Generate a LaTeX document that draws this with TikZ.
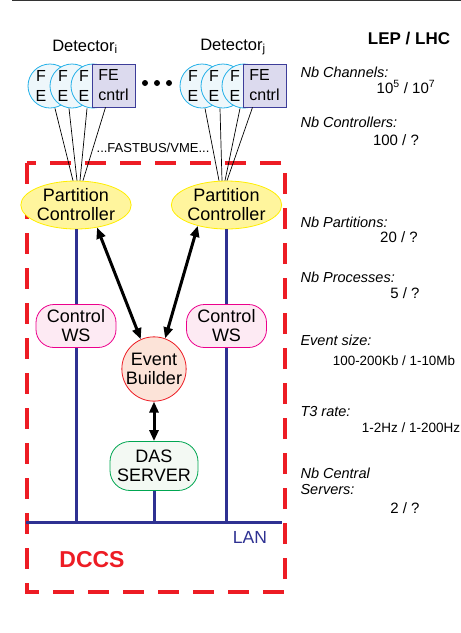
\documentclass[tikz,border=0pt]{standalone}
\usepackage{fontspec}
\setmainfont{Liberation Sans}
\usetikzlibrary{arrows.meta,positioning,shapes.geometric}

\definecolor{lanblue}{HTML}{2E3192}
\definecolor{dccsred}{HTML}{ED1C24}
\definecolor{fecyan}{HTML}{22B0E8}
\definecolor{fefill}{HTML}{EEF7FB}
\definecolor{ctrlblue}{HTML}{3D3D99}
\definecolor{ctrlfill}{HTML}{DCDAEE}
\definecolor{pcdraw}{HTML}{FFEE00}
\definecolor{pcfill}{HTML}{FFF59D}
\definecolor{wsdraw}{HTML}{EC008C}
\definecolor{wsfill}{HTML}{FDEAF3}
\definecolor{ebfill}{HTML}{FCE3D8}
\definecolor{dasdraw}{HTML}{00A651}
\definecolor{dasfill}{HTML}{F3F9F3}

\begin{document}
\begin{tikzpicture}[x=1pt,y=-1pt, fe/.style={circle,draw=fecyan,fill=fefill,line width=0.8pt,minimum size=44pt,inner sep=0pt}, fetxt/.style={align=center,font=\fontsize{16}{20}\selectfont,xshift=-9pt}, cntrl/.style={draw=ctrlblue,fill=ctrlfill,line width=0.8pt,minimum width=43pt,minimum height=43pt,inner sep=0pt,align=left,font=\fontsize{16}{20}\selectfont}, pc/.style={ellipse,draw=pcdraw,fill=pcfill,line width=0.8pt,minimum width=91pt,minimum height=48pt,inner sep=0pt,align=center,font=\fontsize{18}{19}\selectfont}, ws/.style={draw=wsdraw,fill=wsfill,line width=0.8pt,rounded corners=18pt,minimum width=80pt,minimum height=43pt,inner sep=0pt,align=center,font=\fontsize{18}{19}\selectfont}, wire/.style={line width=0.7pt}, lan/.style={draw=lanblue,line width=3pt}, biarrow/.style={line width=3pt,{Triangle[length=11pt,width=9pt]}-{Triangle[length=11pt,width=9pt]}}, lbl/.style={anchor=west,align=left,font=\fontsize{14.5}{16}\selectfont\itshape}, val/.style={font=\fontsize{15}{17}\selectfont}]
\useasboundingbox (0,0) rectangle (461,633);
\draw[line width=1.5pt,black!80] (12,0.7) -- (461,0.7);

% detectors and front ends
\node[font=\fontsize{16.5}{18}\selectfont] (DetI) at (85,47) {Detector\textsubscript{i}};
\node[font=\fontsize{16.5}{18}\selectfont] (DetJ) at (233,47) {Detector\textsubscript{j}};
\node[fe,label={[fetxt]center:F\\E}] (Fa) at (50,86) {};
\node[fe,label={[fetxt]center:F\\E}] (Fb) at (72,86) {};
\node[fe,label={[fetxt]center:F\\E}] (Fc) at (93,86) {};
\node[cntrl] (K1) at (113.5,85.5) {FE\\cntrl};
\node[fe,label={[fetxt]center:F\\E}] (Fd) at (202,86) {};
\node[fe,label={[fetxt]center:F\\E}] (Fe) at (223,86) {};
\node[fe,label={[fetxt]center:F\\E}] (Ff) at (244,86) {};
\node[cntrl] (K2) at (264.5,85.5) {FE\\cntrl};
\foreach \x in {145,157,169} \fill (\x,83) circle (3);
\node[font=\fontsize{13}{15}\selectfont] (Bus) at (153,148) {...FASTBUS/VME...};

% DCCS frame
\draw[dccsred,line width=4pt,dash pattern=on 21pt off 14pt] (27,163) rectangle (285,592);
\node[text=dccsred,font=\fontsize{23}{25}\selectfont\bfseries] (DCCS) at (92,560) {DCCS};

\node[pc] (PC1) at (76,205) {Partition\\Controller};
\node[pc] (PC2) at (226.5,205) {Partition\\Controller};
\node[ws] (WS1) at (76,326) {Control\\WS};
\node[ws] (WS2) at (226.5,326) {Control\\WS};
\node[circle,draw=dccsred,fill=ebfill,line width=0.8pt,minimum size=64pt,inner sep=0pt,align=center,font=\fontsize{18}{19}\selectfont] (EB) at (154,369) {Event\\Builder};
\node[draw=dasdraw,fill=dasfill,line width=0.8pt,rounded corners=20pt,minimum width=88pt,minimum height=49pt,inner sep=0pt,align=center,font=\fontsize{18}{19}\selectfont] (DAS) at (154,466) {DAS\\SERVER};

\draw[wire] ([xshift=5pt]Fa.south) -- ([xshift=-3pt]PC1.north);
\draw[wire] ([xshift=-3pt]Fb.south) -- ([xshift=1pt]PC1.north);
\draw[wire] ([xshift=-6pt]Fc.south) -- ([xshift=4pt]PC1.north);
\draw[wire] ([xshift=-8pt]K1.south) -- ([xshift=7pt]PC1.north);
\draw[wire] ([xshift=3pt]Fd.south) -- ([xshift=-7.5pt]PC2.north);
\draw[wire] ([xshift=-3pt]Fe.south) -- ([xshift=-4.5pt]PC2.north);
\draw[wire] ([xshift=-4pt]Ff.south) -- ([xshift=-1.5pt]PC2.north);
\draw[wire] ([xshift=-12pt]K2.south) -- ([xshift=0.5pt]PC2.north);

% LAN
\coordinate (L1) at (26,522);
\coordinate (L2) at (282,522);
\draw[lan] (L1) -- (L2);
\draw[lan] (PC1) -- (WS1);
\draw[lan] (PC2) -- (WS2);
\draw[lan] (WS1) -- (WS1 |- L1);
\draw[lan] (WS2) -- (WS2 |- L1);
\draw[lan] (DAS) -- (DAS |- L1);
\node[text=lanblue,font=\fontsize{17.5}{19}\selectfont] (LAN) at (250,537) {LAN};

\draw[biarrow] (PC1.-47) -- (EB.114);
\draw[biarrow] (PC2.-144) -- (EB.70);
\draw[biarrow] (EB) -- (DAS);

% LEP / LHC figures
\node[font=\fontsize{17}{19}\selectfont\bfseries] (LEP) at (409,39) {LEP / LHC};
\node[lbl] (NbCh) at (297,72) {Nb Channels:};
\node[val] (vCh) at (406,87) {10\textsuperscript{5} / 10\textsuperscript{7}};
\node[lbl] (NbCo) at (297,122) {Nb Controllers:};
\node[val] (vCo) at (396,140) {100 / ?};
\node[lbl] (NbPa) at (297,222) {Nb Partitions:};
\node[val] (vPa) at (399,237) {20 / ?};
\node[lbl] (NbPr) at (297,277) {Nb Processes:};
\node[val] (vPr) at (405,293) {5 / ?};
\node[lbl] (EvS) at (297,340) {Event size:};
\node[font=\fontsize{13.4}{15}\selectfont] (vEvS) at (394,361) {100-200Kb / 1-10Mb};
\node[lbl] (T3) at (297,412) {T3 rate:};
\node[font=\fontsize{13.5}{15}\selectfont] (vT3) at (411,428) {1-2Hz / 1-200Hz};
\node[lbl] (NbSe) at (297,481) {Nb Central\\Servers:};
\node[val] (vSe) at (405,508) {2 / ?};
\end{tikzpicture}
\end{document}
